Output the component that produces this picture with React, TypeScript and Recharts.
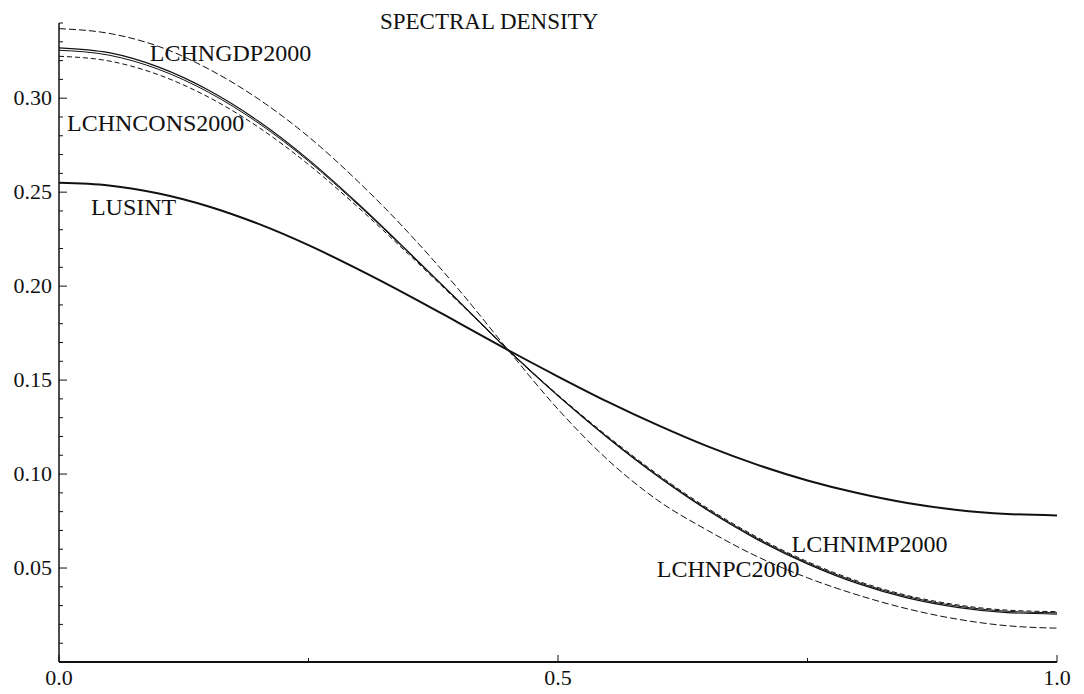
import { LineChart, Line, XAxis, YAxis, ReferenceDot } from 'recharts';

// frequency (fraction of pi)
const freq = [0, 0.05, 0.1, 0.15, 0.2, 0.25, 0.3, 0.35, 0.4, 0.45, 0.5, 0.55, 0.6, 0.65, 0.7, 0.75, 0.8, 0.85, 0.9, 0.95, 1.0];

const lusint = [0.255, 0.2536, 0.2493, 0.2424, 0.2331, 0.2218, 0.2089, 0.1951, 0.1806, 0.166, 0.1519, 0.1384, 0.126, 0.1147, 0.1049, 0.0966, 0.0899, 0.0846, 0.0809, 0.0788, 0.078];
const lchngdp = [0.337, 0.3345, 0.3275, 0.3155, 0.2995, 0.2795, 0.2555, 0.2285, 0.1985, 0.166, 0.1345, 0.1075, 0.086, 0.07, 0.056, 0.0448, 0.0357, 0.0283, 0.0228, 0.0193, 0.018];
const lchncons = [0.3268, 0.3242, 0.3165, 0.3042, 0.2877, 0.2673, 0.2437, 0.2183, 0.1923, 0.166, 0.1416, 0.1192, 0.0988, 0.0807, 0.0651, 0.0522, 0.0418, 0.0341, 0.0291, 0.0263, 0.0255];
const lchnimp = [0.3255, 0.3229, 0.3153, 0.3031, 0.2867, 0.2665, 0.2431, 0.2179, 0.1921, 0.166, 0.1418, 0.1195, 0.0992, 0.0812, 0.0657, 0.0528, 0.0425, 0.0348, 0.0298, 0.027, 0.0262];
const lchnpc = [0.3223, 0.3198, 0.3124, 0.3005, 0.2845, 0.2647, 0.2418, 0.2171, 0.1917, 0.166, 0.1421, 0.12, 0.0998, 0.0818, 0.0663, 0.0534, 0.0431, 0.0354, 0.0304, 0.0276, 0.0268];

const xTicks = [0, 0.25, 0.5, 0.75, 1.0];
const xLabels = ['0.0', '', '0.5', '', '1.0'];
const yMajor = ['0.05', '0.10', '0.15', '0.20', '0.25', '0.30'];
const yTicks = Array.from({ length: 35 }, (_, i) => i / 100);

// curve labels: [text, x, y]
const notes: [string, number, number][] = [
  ['LCHNGDP2000', 0.091, 0.3197],
  ['LCHNCONS2000', 0.008, 0.2824],
  ['LUSINT', 0.032, 0.2378],
  ['LCHNIMP2000', 0.734, 0.0585],
  ['LCHNPC2000', 0.599, 0.0452],
];

const data = freq.map((x, i) => ({
  x,
  lusint: lusint[i],
  gdp: lchngdp[i],
  cons: lchncons[i],
  imp: lchnimp[i],
  pc: lchnpc[i],
}));

const FONT = '"Liberation Serif", "Times New Roman", serif';
const INK = '#111';

const XTick = (props: any) => {
  const { x, y, payload } = props;
  const i = xTicks.indexOf(payload.value);
  const lab = xLabels[i] || '';
  return (
    <g>
      <line x1={x} x2={x} y1={y} y2={y - (lab ? 7 : 4)} stroke={INK} strokeWidth={1} />
      {lab && (
        <text x={x} y={y + 23} textAnchor="middle" fontSize={22} fontFamily={FONT} fill={INK}>
          {lab}
        </text>
      )}
    </g>
  );
};

const YTick = (props: any) => {
  const { x, y, payload } = props;
  const v = Math.round(payload.value * 100);
  const lab = v > 0 && v % 5 === 0 ? yMajor[v / 5 - 1] : '';
  if (v === 0) return null;
  return (
    <g>
      <line x1={x} x2={x + (lab ? 8 : 4)} y1={y} y2={y} stroke={INK} strokeWidth={1} />
      {lab && (
        <text x={x - 7} y={y + 7} textAnchor="end" fontSize={22} fontFamily={FONT} fill={INK}>
          {lab}
        </text>
      )}
    </g>
  );
};

export default function App() {
  return (
    <div style={{ position: 'absolute', left: 0, top: 0, background: '#fff' }}>
      <LineChart width={1084} height={694} data={data} margin={{ top: 23, right: 27, bottom: 0, left: 0 }}>
        <XAxis
          type="number"
          dataKey="x"
          domain={[0, 1]}
          ticks={xTicks}
          height={32}
          tickSize={0}
          tickMargin={0}
          tickLine={false}
          axisLine={{ stroke: INK, strokeWidth: 2 }}
          tick={<XTick />}
          interval={0}
        />
        <YAxis
          type="number"
          domain={[0, 0.34]}
          ticks={yTicks}
          width={59}
          tickSize={0}
          tickMargin={0}
          tickLine={false}
          axisLine={{ stroke: INK, strokeWidth: 1.5 }}
          tick={<YTick />}
          interval={0}
        />
        <Line dataKey="lusint" type="monotone" stroke={INK} strokeWidth={2} dot={false} isAnimationActive={false} />
        <Line dataKey="gdp" type="monotone" stroke={INK} strokeWidth={1} strokeDasharray="7 3" dot={false} isAnimationActive={false} />
        <Line dataKey="cons" type="monotone" stroke={INK} strokeWidth={1.2} dot={false} isAnimationActive={false} />
        <Line dataKey="imp" type="monotone" stroke={INK} strokeWidth={1} dot={false} isAnimationActive={false} />
        <Line dataKey="pc" type="monotone" stroke={INK} strokeWidth={1} strokeDasharray="5 3" dot={false} isAnimationActive={false} />
        {notes.map(([t, nx, ny]) => (
          <ReferenceDot
            key={t}
            x={nx}
            y={ny}
            r={0}
            shape={(p: any) => (
              <text x={p.cx} y={p.cy} fontSize={24} fontFamily={FONT} fill={INK}>
                {t}
              </text>
            )}
          />
        ))}
        <ReferenceDot
          x={0.431}
          y={0.337}
          r={0}
          shape={(p: any) => (
            <text x={p.cx} y={p.cy} textAnchor="middle" fontSize={23} fontFamily={FONT} fill={INK}>
              SPECTRAL DENSITY
            </text>
          )}
        />
      </LineChart>
    </div>
  );
}
